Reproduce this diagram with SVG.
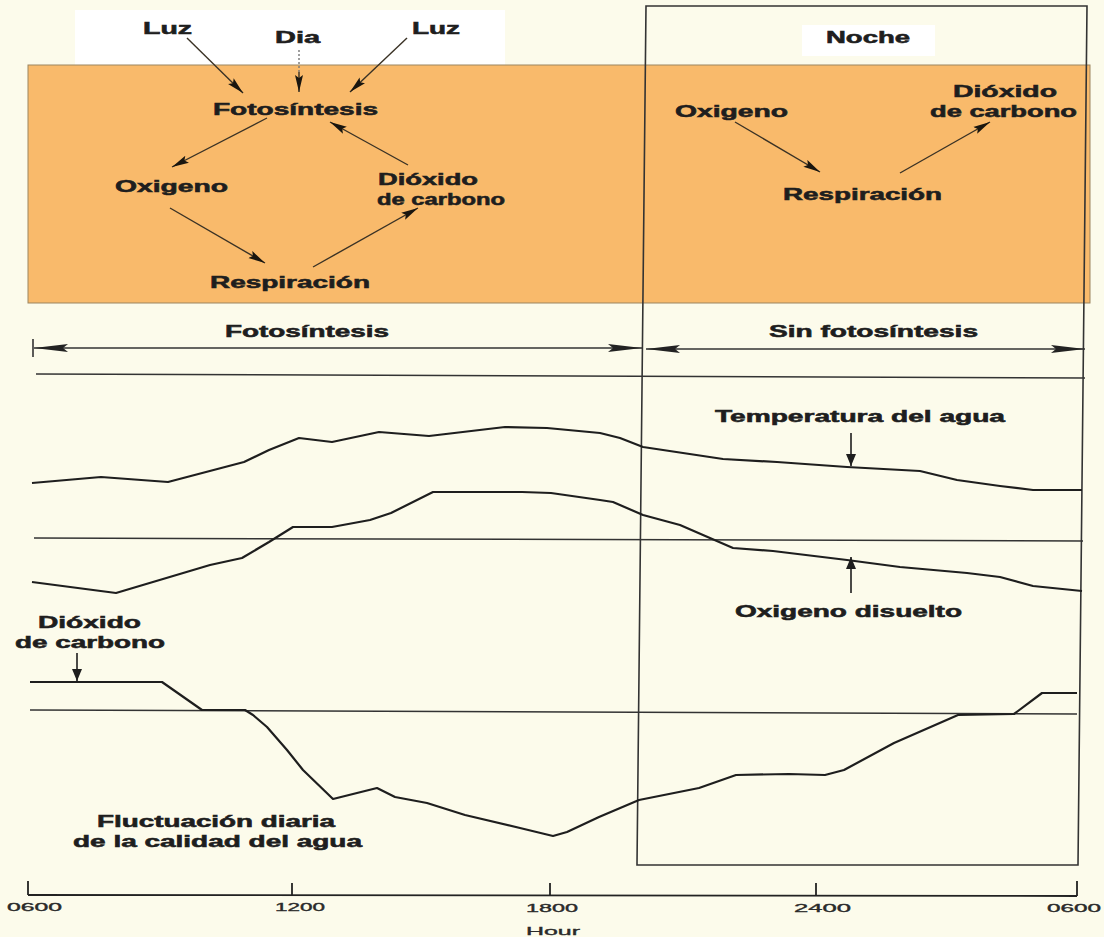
<svg xmlns="http://www.w3.org/2000/svg" width="1104" height="937" viewBox="0 0 1104 937">
<style>
.t{font-family:"Liberation Sans",Arial,sans-serif;font-weight:bold;font-size:16px;fill:#1e1e1e;stroke:#1e1e1e;stroke-width:0.55}
.s{font-family:"Liberation Sans",Arial,sans-serif;font-size:11.5px;fill:#2a2a2a;stroke:#2a2a2a;stroke-width:0.35}
.ar{stroke:#3a3225;stroke-width:1.4;fill:none}
.cv{stroke:#1e1e1e;stroke-width:2.2;fill:none;stroke-linejoin:round}
.hl{stroke:#333;stroke-width:1.5;fill:none}
.fr{stroke:#333;stroke-width:1.6;fill:none}
</style>
<defs>
<marker id="ah" markerUnits="userSpaceOnUse" markerWidth="17" markerHeight="9" refX="17" refY="4.5" orient="auto">
<path d="M0,0.5 L17,4.5 L0,8.5 L3,4.5 Z" fill="#1a160f"/>
</marker>
<marker id="lh" markerUnits="userSpaceOnUse" markerWidth="34" markerHeight="9" refX="34" refY="4.5" orient="auto-start-reverse">
<path d="M0,0.5 L34,4.5 L0,8.5 L5,4.5 Z" fill="#222"/>
</marker>
<marker id="sh" markerUnits="userSpaceOnUse" markerWidth="12" markerHeight="10" refX="12" refY="5" orient="auto">
<path d="M0,0 L12,5 L0,10 Z" fill="#1e1e1e"/>
</marker>
</defs>
<rect width="1104" height="937" fill="#fcfbeb"/>
<rect x="75" y="10" width="430" height="55" fill="#ffffff"/>
<rect x="802" y="25" width="133" height="31" fill="#ffffff"/>
<rect x="28" y="65" width="1062" height="238" fill="#f9ba6b" stroke="#9b8561" stroke-width="1"/>

<g id="frame">
<path class="fr" d="M646,6 L1087,6 L1078,865 L637,865 Z"/>
</g>

<g id="connectors">
<line class="ar" x1="187" y1="38" x2="243" y2="93" marker-end="url(#ah)"/>
<line x1="299" y1="50" x2="299" y2="72" stroke="#777" stroke-width="1.4" stroke-dasharray="2,2"/>
<line class="ar" x1="299" y1="72" x2="299" y2="92" marker-end="url(#ah)"/>
<line class="ar" x1="407" y1="38" x2="350" y2="92" marker-end="url(#ah)"/>
<line class="ar" x1="267" y1="118" x2="172" y2="167" marker-end="url(#ah)"/>
<line class="ar" x1="408" y1="165" x2="330" y2="122" marker-end="url(#ah)"/>
<line class="ar" x1="170" y1="208" x2="265" y2="263" marker-end="url(#ah)"/>
<line class="ar" x1="313" y1="267" x2="418" y2="208" marker-end="url(#ah)"/>
<line class="ar" x1="735" y1="122" x2="820" y2="172" marker-end="url(#ah)"/>
<line class="ar" x1="900" y1="173" x2="990" y2="122" marker-end="url(#ah)"/>
<line x1="33" y1="339" x2="33" y2="357" stroke="#333" stroke-width="1.6"/>
<line x1="34" y1="348" x2="642" y2="348" stroke="#333" stroke-width="1.3" marker-start="url(#lh)" marker-end="url(#lh)"/>
<line x1="646" y1="349" x2="1085" y2="349" stroke="#333" stroke-width="1.3" marker-start="url(#lh)" marker-end="url(#lh)"/>
<line x1="851" y1="433" x2="851" y2="466" stroke="#1e1e1e" stroke-width="1.6" marker-end="url(#sh)"/>
<line x1="851" y1="593" x2="851" y2="557" stroke="#1e1e1e" stroke-width="1.6" marker-end="url(#sh)"/>
<line x1="77" y1="653" x2="77" y2="681" stroke="#1e1e1e" stroke-width="1.6" marker-end="url(#sh)"/>
</g>

<g id="chart">
<line class="hl" x1="36" y1="374" x2="1085" y2="378"/>
<line class="hl" x1="34" y1="538" x2="1083" y2="541"/>
<line class="hl" x1="30" y1="710" x2="1077" y2="714"/>
<path id="temperatura" class="cv" d="M32,483 L101,477 L168,482 L244,462 L269,450 L299,438 L332,442 L379,432 L429,436 L505,427 L547,428 L600,433 L620,438 L643,447 L723,459 L777,462 L847,467 L920,471 L957,480 L1000,486 L1033,490 L1082,490"/>
<path id="oxigeno" class="cv" d="M32,582 L116,593 L210,565 L242,558 L269,542 L293,527 L332,527 L370,520 L391,513 L433,492 L522,492 L551,493 L600,500 L613,502 L643,515 L680,525 L703,535 L733,548 L773,551 L847,560 L900,567 L967,573 L1000,577 L1033,586 L1082,591"/>
<path id="dioxido" class="cv" d="M30,682 L162,682 L202,710 L245,710 L253,715 L267,727 L287,750 L303,770 L333,799 L377,788 L395,797 L427,803 L465,815 L520,828 L553,836 L567,832 L599,817 L639,800 L699,788 L736,775 L789,774 L825,775 L844,770 L894,743 L958,715 L1014,714 L1042,693 L1077,693"/>
<g id="axis" stroke="#222" stroke-width="1.8" fill="none">
<line x1="28" y1="895" x2="1077" y2="896"/>
<line x1="28" y1="881" x2="28" y2="895"/>
<line x1="292" y1="883" x2="292" y2="895"/>
<line x1="550" y1="883" x2="550" y2="895"/>
<line x1="816" y1="883" x2="816" y2="896"/>
<line x1="1077" y1="881" x2="1077" y2="896"/>
</g>
</g>

<g id="n-luz1"><text class="t" x="143" y="34" textLength="49" lengthAdjust="spacingAndGlyphs">Luz</text></g>
<g id="n-dia"><text class="t" x="275" y="43" textLength="45" lengthAdjust="spacingAndGlyphs">Dia</text></g>
<g id="n-luz2"><text class="t" x="412" y="34" textLength="48" lengthAdjust="spacingAndGlyphs">Luz</text></g>
<g id="n-foto"><text class="t" x="213" y="115" textLength="165" lengthAdjust="spacingAndGlyphs">Fotosíntesis</text></g>
<g id="n-oxi1"><text class="t" x="115" y="192" textLength="113" lengthAdjust="spacingAndGlyphs">Oxigeno</text></g>
<g id="n-co2a"><text class="t" x="378" y="185" textLength="100" lengthAdjust="spacingAndGlyphs">Dióxido</text><text class="t" x="377" y="205" textLength="128" lengthAdjust="spacingAndGlyphs">de carbono</text></g>
<g id="n-resp1"><text class="t" x="210" y="288" textLength="160" lengthAdjust="spacingAndGlyphs">Respiración</text></g>
<g id="n-noche"><text class="t" x="826" y="43" textLength="84" lengthAdjust="spacingAndGlyphs">Noche</text></g>
<g id="n-oxi2"><text class="t" x="675" y="117" textLength="113" lengthAdjust="spacingAndGlyphs">Oxigeno</text></g>
<g id="n-co2b"><text class="t" x="953" y="97" textLength="104" lengthAdjust="spacingAndGlyphs">Dióxido</text><text class="t" x="930" y="117" textLength="147" lengthAdjust="spacingAndGlyphs">de carbono</text></g>
<g id="n-resp2"><text class="t" x="783" y="200" textLength="159" lengthAdjust="spacingAndGlyphs">Respiración</text></g>
<g id="n-fotoperiod"><text class="t" x="225" y="337" textLength="164" lengthAdjust="spacingAndGlyphs">Fotosíntesis</text></g>
<g id="n-sinfoto"><text class="t" x="769" y="337" textLength="209" lengthAdjust="spacingAndGlyphs">Sin fotosíntesis</text></g>
<g id="n-temp"><text class="t" x="715" y="422" textLength="290" lengthAdjust="spacingAndGlyphs">Temperatura del agua</text></g>
<g id="n-oxidis"><text class="t" x="735" y="617" textLength="227" lengthAdjust="spacingAndGlyphs">Oxigeno disuelto</text></g>
<g id="n-co2c"><text class="t" x="38" y="628" textLength="103" lengthAdjust="spacingAndGlyphs">Dióxido</text><text class="t" x="15" y="648" textLength="150" lengthAdjust="spacingAndGlyphs">de carbono</text></g>
<g id="n-fluct"><text class="t" x="97" y="827" textLength="238" lengthAdjust="spacingAndGlyphs">Fluctuación diaria</text><text class="t" x="73" y="847" textLength="289" lengthAdjust="spacingAndGlyphs">de la calidad del agua</text></g>
<g id="n-axis-labels">
<text class="s" x="7" y="911" textLength="55" lengthAdjust="spacingAndGlyphs">0600</text>
<text class="s" x="275" y="911" textLength="50" lengthAdjust="spacingAndGlyphs">1200</text>
<text class="s" x="526" y="912" textLength="52" lengthAdjust="spacingAndGlyphs">1800</text>
<text class="s" x="794" y="912" textLength="57" lengthAdjust="spacingAndGlyphs">2400</text>
<text class="s" x="1047" y="912" textLength="54" lengthAdjust="spacingAndGlyphs">0600</text>
<text class="s" x="526" y="935" textLength="54" lengthAdjust="spacingAndGlyphs">Hour</text>
</g>
</svg>
